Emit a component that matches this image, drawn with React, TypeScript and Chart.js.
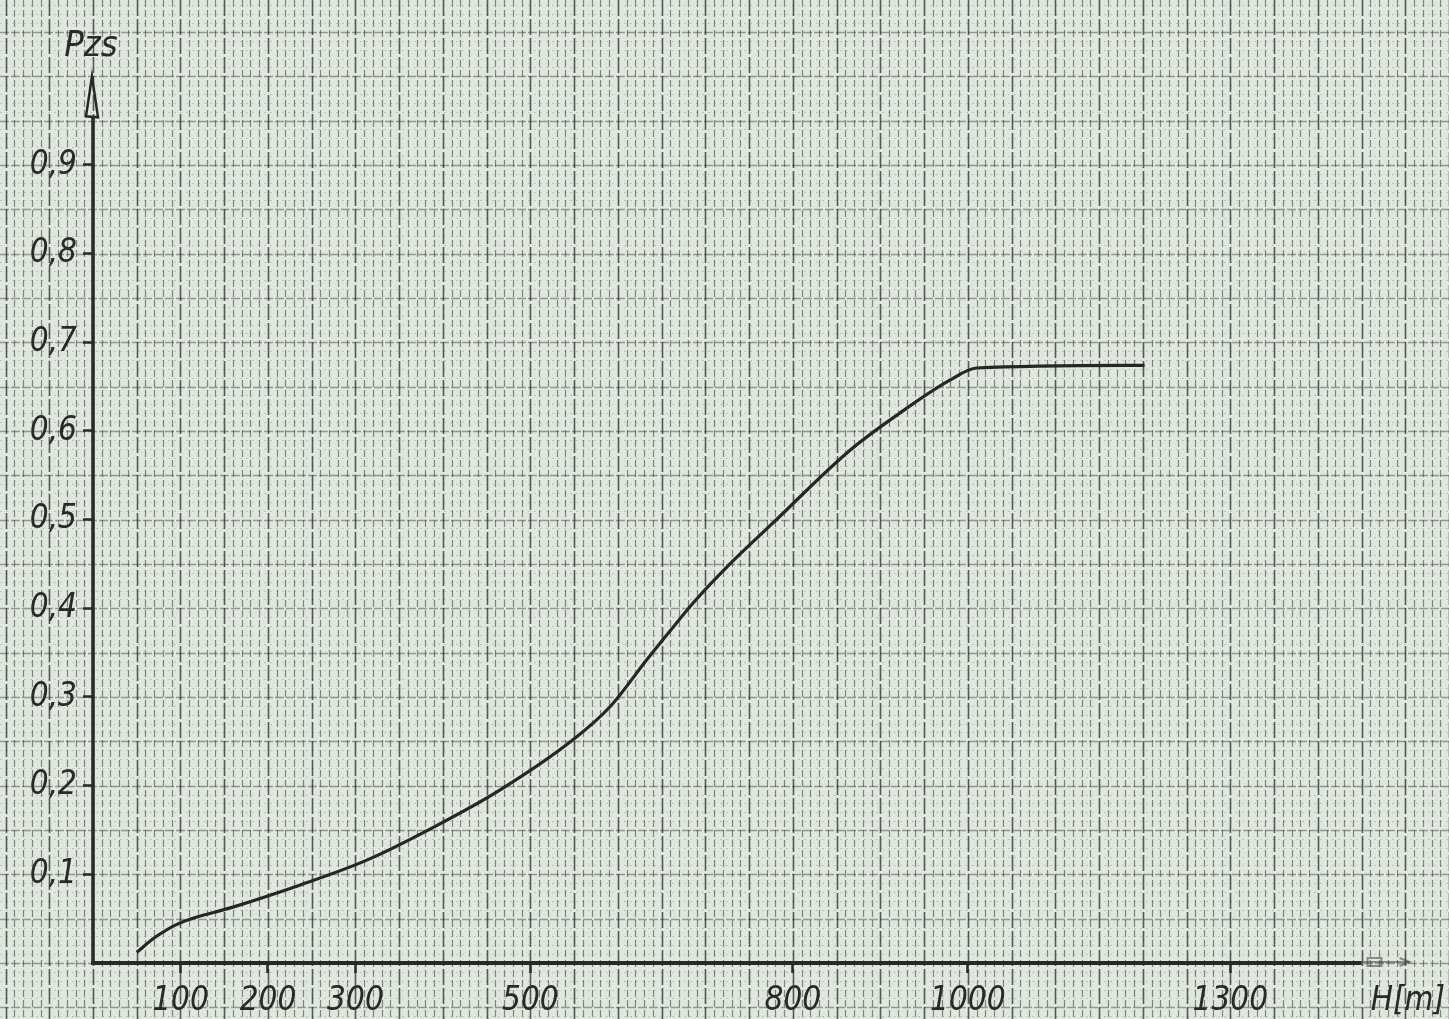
import React, { useEffect, useRef } from "react";
import { Chart, registerables } from "chart.js";

Chart.register(...registerables);

// ---- data ----
const H_VALUES = [50, 71, 99, 160, 237, 313, 389, 465, 549, 591, 633, 660, 686, 725, 777, 865, 922, 979, 1010, 1202];
const PZS_VALUES = [0.012, 0.029, 0.045, 0.063, 0.088, 0.116, 0.153, 0.195, 0.252, 0.289, 0.342, 0.375, 0.406, 0.447, 0.496, 0.578, 0.62, 0.657, 0.671, 0.674];
const X_TICKS = [100, 200, 300, 500, 800, 1000, 1300];
const Y_TICKS = [0.1, 0.2, 0.3, 0.4, 0.5, 0.6, 0.7, 0.8, 0.9];
const X_TITLE = "H[m]";
const Y_TITLE = "Pzs";

// ---- layout / style constants ----
const W = 1449;
const HGT = 1019;
const X_MIN = 0;
const X_MAX = 1550;
const Y_MIN = 0;
const Y_MAX = 1.086;
const X_TITLE_AT = 1503;
const X_AXIS_END = 1450;
const X_ARROW_END = 1505;
const Y_AXIS_END = 1.0;
const PAPER = "#e0e7de";
const INK = "#272a27";
const FONT_FAMILY = "'DejaVu Sans Condensed', 'DejaVu Sans', sans-serif";

const paperPlugin = {
  id: "paperGrid",
  beforeDraw(chart: any) {
    const { ctx, width, height } = chart;
    const x = chart.scales.x;
    const y = chart.scales.y;
    ctx.save();
    ctx.fillStyle = PAPER;
    ctx.fillRect(0, 0, width, height);
    // horizontal mm lines
    for (let i = -8; i <= 112; i++) {
      const py = Math.round(y.getPixelForValue(i / 100)) + 0.5;
      if (py < -2 || py > height + 2) continue;
      const major = i % 5 === 0;
      ctx.strokeStyle = major ? "rgba(50,58,50,0.45)" : "rgba(70,80,70,0.22)";
      ctx.lineWidth = major ? 1.4 : 1;
      ctx.setLineDash(major ? [9, 2] : [2, 4]);
      ctx.beginPath();
      ctx.moveTo(0, py);
      ctx.lineTo(width, py);
      ctx.stroke();
    }
    // vertical mm lines
    for (let i = -11; i <= 160; i++) {
      const px = Math.round(x.getPixelForValue(i * 10)) + 0.5;
      if (px < -2 || px > width + 2) continue;
      const major = i % 5 === 0;
      ctx.strokeStyle = major ? "rgba(35,42,35,0.75)" : "rgba(45,52,45,0.55)";
      ctx.lineWidth = major ? 1.6 : 1.2;
      ctx.setLineDash(major ? [16, 3] : [7, 3]);
      ctx.beginPath();
      ctx.moveTo(px, 0);
      ctx.lineTo(px, height);
      ctx.stroke();
    }
    ctx.restore();
  },
};

const axesPlugin = {
  id: "paperAxes",
  afterDraw(chart: any) {
    const { ctx } = chart;
    const x = chart.scales.x;
    const y = chart.scales.y;
    const x0 = x.getPixelForValue(0);
    const y0 = y.getPixelForValue(0);
    const yTop = y.getPixelForValue(Y_AXIS_END);
    const xEnd = x.getPixelForValue(X_AXIS_END);
    const xArrow = x.getPixelForValue(X_ARROW_END);
    ctx.save();
    ctx.setLineDash([]);
    ctx.strokeStyle = INK;
    ctx.lineCap = "butt";
    // x axis
    ctx.lineWidth = 4;
    ctx.beginPath();
    ctx.moveTo(x0 - 2, y0);
    ctx.lineTo(xEnd, y0);
    ctx.stroke();
    // faint arrow tail of x axis
    ctx.strokeStyle = "rgba(60,64,60,0.55)";
    ctx.lineWidth = 2;
    ctx.beginPath();
    ctx.moveTo(xEnd, y0 - 1);
    ctx.lineTo(xArrow, y0 - 1);
    ctx.stroke();
    ctx.strokeRect(xEnd + 6, y0 - 5, 14, 8);
    ctx.beginPath();
    ctx.moveTo(xArrow - 10, y0 - 5);
    ctx.lineTo(xArrow, y0 - 1);
    ctx.lineTo(xArrow - 10, y0 + 3);
    ctx.stroke();
    // y axis
    ctx.strokeStyle = INK;
    ctx.lineWidth = 3.5;
    ctx.beginPath();
    ctx.moveTo(x0, y0 + 2);
    ctx.lineTo(x0, yTop + 40);
    ctx.stroke();
    // y arrow (narrow open triangle)
    ctx.lineWidth = 2.5;
    ctx.beginPath();
    ctx.moveTo(x0 - 1, yTop);
    ctx.lineTo(x0 - 7, yTop + 40);
    ctx.lineTo(x0 + 5, yTop + 41);
    ctx.closePath();
    ctx.stroke();
    // y axis title
    ctx.fillStyle = INK;
    ctx.font = `italic 36px ${FONT_FAMILY}`;
    ctx.textAlign = "center";
    ctx.textBaseline = "alphabetic";
    ctx.fillText(Y_TITLE, x0 - 2, yTop - 20);
    ctx.restore();
  },
};

export default function App() {
  const ref = useRef<HTMLCanvasElement>(null);

  useEffect(() => {
    const canvas = ref.current;
    if (!canvas) return;
    const points = H_VALUES.map((h, i) => ({ x: h, y: PZS_VALUES[i] }));
    const tickFont = { family: FONT_FAMILY, size: 33, style: "italic" as const, weight: "normal" as const };
    const chart = new Chart(canvas, {
      type: "line",
      data: {
        datasets: [
          {
            label: Y_TITLE,
            data: points,
            borderColor: "#252724",
            borderWidth: 3.2,
            pointRadius: 0,
            fill: false,
            cubicInterpolationMode: "monotone",
          },
        ],
      },
      options: {
        responsive: false,
        animation: false,
        devicePixelRatio: 1,
        layout: { padding: 0 },
        plugins: {
          legend: { display: false },
          tooltip: { enabled: false },
          title: { display: false },
        },
        scales: {
          x: {
            type: "linear",
            min: X_MIN,
            max: X_MAX,
            border: { display: false },
            grid: {
              display: true,
              drawOnChartArea: false,
              drawTicks: true,
              tickLength: 10,
              tickWidth: 2.5,
              tickColor: (c: any) => (c.tick && c.tick.value === X_TITLE_AT ? "rgba(0,0,0,0)" : INK),
            },
            afterBuildTicks: (scale: any) => {
              scale.ticks = [...X_TICKS, X_TITLE_AT].map((v) => ({ value: v }));
            },
            afterFit: (scale: any) => {
              scale.height = HGT - 963;
              scale.paddingLeft = 0;
              scale.paddingRight = 0;
            },
            ticks: {
              autoSkip: false,
              maxRotation: 0,
              padding: 9,
              color: INK,
              font: tickFont,
              callback: (v: any) => (v === X_TITLE_AT ? X_TITLE : String(v)),
            },
          },
          y: {
            type: "linear",
            min: Y_MIN,
            max: Y_MAX,
            border: { display: false },
            grid: {
              display: true,
              drawOnChartArea: false,
              drawTicks: true,
              tickLength: 10,
              tickWidth: 2.5,
              tickColor: INK,
            },
            afterBuildTicks: (scale: any) => {
              scale.ticks = Y_TICKS.map((v) => ({ value: v }));
            },
            afterFit: (scale: any) => {
              scale.width = 93;
              scale.paddingTop = 0;
              scale.paddingBottom = 0;
            },
            ticks: {
              autoSkip: false,
              padding: 6,
              color: INK,
              font: tickFont,
              callback: (v: any) => Number(v).toFixed(1).replace(".", ","),
            },
          },
        },
      },
      plugins: [paperPlugin, axesPlugin],
    } as any);
    return () => chart.destroy();
  }, []);

  return (
    <div style={{ position: "absolute", left: 0, top: 0, width: W, height: HGT }}>
      <canvas ref={ref} width={W} height={HGT} style={{ display: "block", width: W, height: HGT }} />
    </div>
  );
}
